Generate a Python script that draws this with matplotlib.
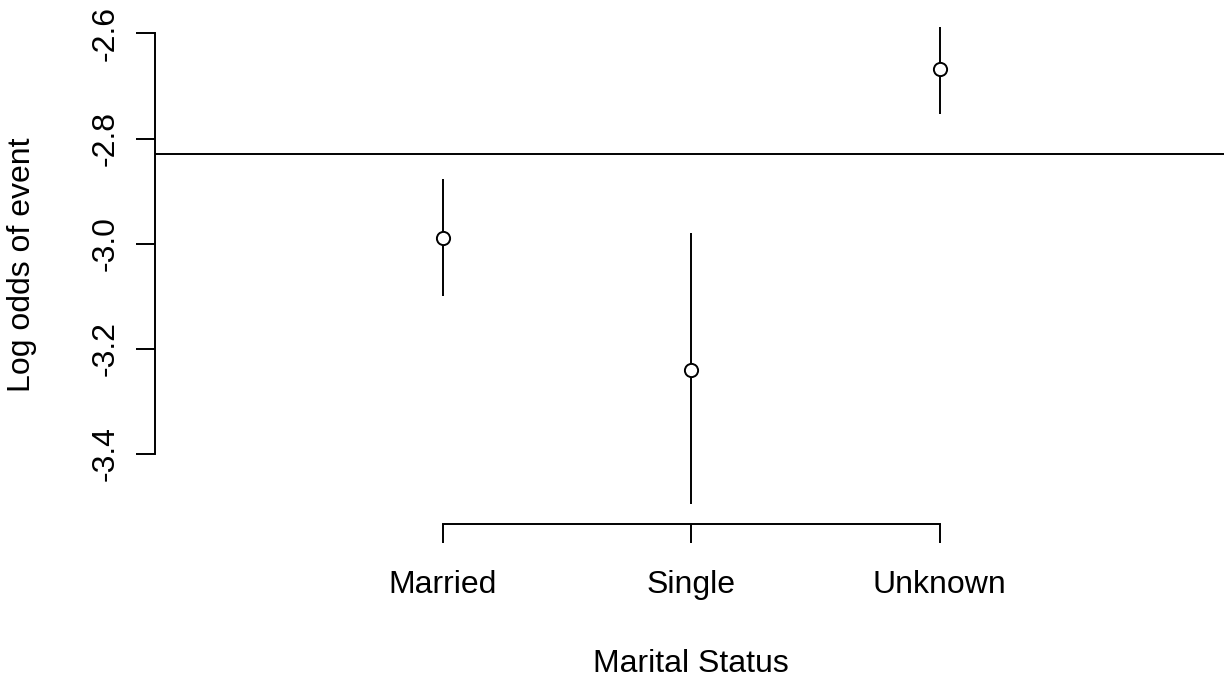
import matplotlib
matplotlib.use("Agg")
import matplotlib.pyplot as plt

categories = ["Married", "Single", "Unknown"]
estimates = [-2.989, -3.241, -2.668]
lower = [-3.0995, -3.495, -2.753]
upper = [-2.877, -2.980, -2.587]
overall = -2.829
yticks = [-3.4, -3.2, -3.0, -2.8, -2.6]

plt.rcParams['font.family'] = ['Liberation Sans', 'DejaVu Sans']

W, H = 1224, 679
fig = plt.figure(figsize=(W / 100, H / 100), dpi=100)
left_px, right_px, top_px, bottom_px = 154.5, 1228, 8.7, 524.3
ax = fig.add_axes([left_px / W, (H - bottom_px) / H,
                   (right_px - left_px) / W, (bottom_px - top_px) / H])

x = list(range(1, len(categories) + 1))
lw = 1.4
ax.vlines(x, lower, upper, color='black', linewidth=lw)
ax.plot(x, estimates, linestyle='none', marker='o', markersize=9.5,
        markerfacecolor='white', markeredgecolor='black', markeredgewidth=lw)
ax.axhline(overall, color='black', linewidth=lw)

ax.set_xlim(-0.16, 4.16)
ax.set_ylim(-3.534, -2.553)

for s in ['top', 'right']:
    ax.spines[s].set_visible(False)
ax.spines['left'].set_bounds(min(yticks), max(yticks))
ax.spines['bottom'].set_bounds(1, 3)
for s in ['left', 'bottom']:
    ax.spines[s].set_linewidth(lw)

ax.set_xticks(x)
ax.set_xticklabels(categories)
ax.set_yticks(yticks)
ax.set_yticklabels([f"{v:.1f}" for v in yticks], rotation=90, va='center')
ax.tick_params(axis='both', direction='out', length=13.7, width=lw,
               labelsize=23)
ax.tick_params(axis='x', pad=19.5)
ax.tick_params(axis='y', pad=11)

fig.text(7 / W, (H - 264.5) / H, "Log odds of event", rotation=90,
         ha='left', va='center', fontsize=23)
fig.text(691 / W, (H - 672) / H, "Marital Status",
         ha='center', va='baseline', fontsize=23)

fig.savefig("out.png", dpi=100)
